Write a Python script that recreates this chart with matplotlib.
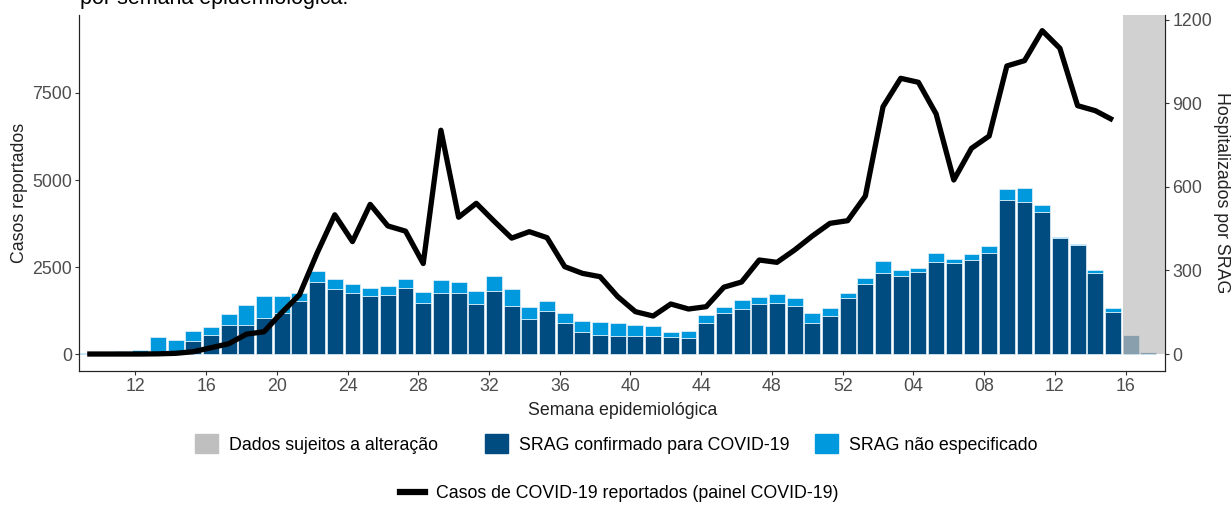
import matplotlib
matplotlib.use("Agg")
import matplotlib.pyplot as plt
from matplotlib.patches import Patch
from matplotlib.lines import Line2D
import numpy as np

plt.rcParams['font.family'] = ['Liberation Sans', 'DejaVu Sans']

# semana epidemiologica: 2020 sem 9..52, 2021 sem 1..17
semanas = list(range(9, 53)) + list(range(1, 18))

# hospitalizados por SRAG (eixo direito)
srag_total = [5, 4, 11, 15, 61, 50, 82, 97, 143, 176,
              210, 208, 220, 297, 271, 251, 236, 246, 270, 224,
              267, 260, 226, 281, 233, 170, 191, 146, 117, 116,
              111, 106, 101, 79, 82, 140, 170, 193, 206, 216,
              202, 146, 164, 218, 273, 334, 301, 310, 362, 343,
              359, 389, 593, 598, 535, 421, 396, 300, 167, 69, 7]
srag_covid = [0, 0, 0, 0, 3, 10, 45, 70, 103, 105,
              129, 149, 191, 257, 233, 218, 207, 211, 236, 185,
              218, 218, 179, 227, 171, 126, 154, 113, 79, 70,
              66, 64, 66, 61, 57, 110, 149, 161, 181, 183,
              173, 113, 137, 201, 251, 291, 279, 295, 330, 326,
              338, 363, 552, 547, 510, 415, 390, 291, 150, 69, 7]

# casos reportados (painel COVID-19), eixo esquerdo, ate 2021 sem 15
casos = [0, 0, 0, 0, 5, 20, 66, 181, 295, 570,
         641, 1190, 1700, 2900, 4000, 3230, 4300, 3680, 3530, 2600,
         6430, 3930, 4330, 3820, 3330, 3515, 3343, 2510, 2318, 2222,
         1648, 1216, 1092, 1437, 1293, 1360, 1920, 2069, 2701, 2634,
         2989, 3391, 3755, 3831, 4540, 7107, 7922, 7807, 6900, 5000,
         5910, 6264, 8276, 8429, 9291, 8784, 7136, 6992, 6724]

n_sujeitos = 2  # ultimas semanas sujeitas a alteracao

cor_conf = '#004B80'
cor_nesp = '#0099DD'
cor_cinza = '#c0c0c0'
cor_txt = '#4d4d4d'
fs = 12.8

srag_total = np.array(srag_total)
srag_covid = np.array(srag_covid)
srag_nesp = srag_total - srag_covid
x = np.arange(len(semanas))

fig = plt.figure(figsize=(12.31, 5.05), dpi=100)
ax = fig.add_axes([79.3 / 1231, 1 - 371 / 505, 1086 / 1231, 356 / 505])
ax2 = ax.twinx()
ax.set_zorder(ax2.get_zorder() + 1)
ax.patch.set_visible(False)

# barras (eixo direito)
ax2.bar(x, srag_covid, width=0.9, color=cor_conf, edgecolor='#e8f4fb', linewidth=0.5)
ax2.bar(x, srag_nesp, width=0.9, bottom=srag_covid, color=cor_nesp,
        edgecolor='#e8f4fb', linewidth=0.5)

# linha de casos (eixo esquerdo)
ax.plot(x[:len(casos)], casos, color='black', lw=3.8, solid_joinstyle='round',
        solid_capstyle='butt')

xlo, xhi = -0.447, 60.96
ax.set_xlim(xlo, xhi)
ylo, yhi = -488, 9741
ax.set_ylim(ylo, yhi)
ax2.set_ylim(ylo / 8, yhi / 8)

# area cinza (dados sujeitos a alteracao)
x0 = len(semanas) - n_sujeitos - 0.45
ax2.axvspan(x0, xhi, ymin=(0 - ylo) / (yhi - ylo), ymax=1, color=cor_cinza,
            alpha=0.72, lw=0, zorder=5)

# eixos
tick_idx = [i for i in range(len(semanas)) if (i - 3) % 4 == 0]
ax.set_xticks([i - 0.28 for i in tick_idx])
ax.set_xticklabels(['%02d' % semanas[i] for i in tick_idx])
ax.set_yticks([0, 2500, 5000, 7500])
ax2.set_yticks([0, 300, 600, 900, 1200])

for a in (ax, ax2):
    a.spines['top'].set_visible(False)
    for s in ('left', 'right', 'bottom'):
        a.spines[s].set_color('#222222')
        a.spines[s].set_linewidth(0.8)
    a.tick_params(axis='both', colors='#333333', labelcolor=cor_txt,
                  labelsize=fs, length=3, width=0.8, pad=2)

ax.set_xlabel('Semana epidemiológica', fontsize=fs, color='#222222', labelpad=5)
ax.set_ylabel('Casos reportados', fontsize=fs, color='#222222', labelpad=3)
ax2.set_ylabel('Hospitalizados por SRAG', fontsize=fs, color='#222222',
               rotation=-90, labelpad=13)

# titulo (cortado no topo da imagem)
fig.text(80 / 1231, 1 - 4 / 505, 'por semana epidemiológica.', fontsize=15.5,
         color='black', va='baseline', ha='left')

# legendas
leg_kw = dict(frameon=False, fontsize=fs, borderpad=0, borderaxespad=0,
              handletextpad=0.65, loc='center left')
entradas = [
    (Patch(color='#bfbfbf'), 'Dados sujeitos a alteração', 195),
    (Patch(color=cor_conf), 'SRAG confirmado para COVID-19', 485),
    (Patch(color=cor_nesp), 'SRAG não especificado', 815),
]
for h, lab, px in entradas:
    fig.legend([h], [lab], bbox_to_anchor=(px / 1231, 1 - 444 / 505),
               handlelength=1.28, handleheight=1.28, **leg_kw)
fig.legend([Line2D([], [], color='black', lw=4.5)],
           ['Casos de COVID-19 reportados (painel COVID-19)'],
           bbox_to_anchor=(400 / 1231, 1 - 494 / 505), handlelength=1.4, **leg_kw)

fig.savefig('out.png', dpi=100)
